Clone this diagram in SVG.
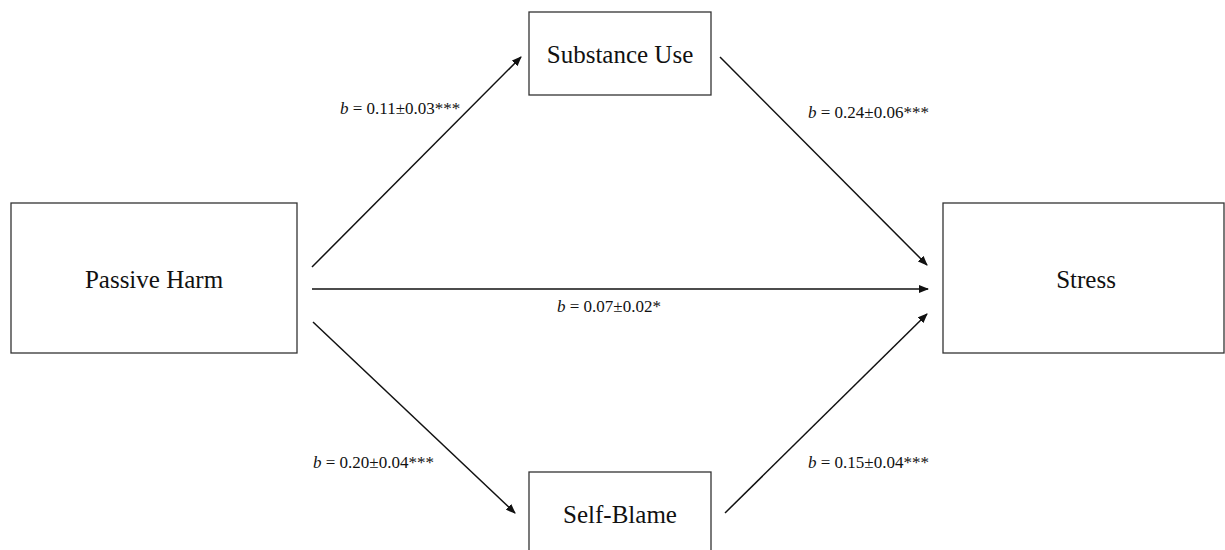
<svg xmlns="http://www.w3.org/2000/svg" width="1225" height="550" viewBox="0 0 1225 550">
<style>
.box{fill:#fff;stroke:#333;stroke-width:1.3}
.node{font-family:"Liberation Serif","Times New Roman",serif;font-size:25px;fill:#111;text-anchor:middle}
.lbl{font-family:"Liberation Serif","Times New Roman",serif;font-size:17px;fill:#111}
.edge{stroke:#111;stroke-width:1.5;fill:none;marker-end:url(#ah)}
</style>
<defs>
<marker id="ah" markerWidth="10" markerHeight="8" refX="9" refY="4" orient="auto" markerUnits="userSpaceOnUse">
<path d="M0,0 L10,4 L0,8 Z" fill="#111"/>
</marker>
</defs>
<rect width="1225" height="550" fill="#fff"/>
<g id="connectors">
<line class="edge" x1="312" y1="267" x2="521" y2="57"/>
<line class="edge" x1="312" y1="289" x2="928" y2="289"/>
<line class="edge" x1="720" y1="57" x2="927" y2="265"/>
<line class="edge" x1="313" y1="322" x2="515" y2="513"/>
<line class="edge" x1="725" y1="513" x2="927" y2="314"/>
<text class="lbl" x="340" y="114"><tspan font-style="italic">b</tspan> = 0.11±0.03***</text>
<text class="lbl" x="808" y="118"><tspan font-style="italic">b</tspan> = 0.24±0.06***</text>
<text class="lbl" x="557" y="312"><tspan font-style="italic">b</tspan> = 0.07±0.02*</text>
<text class="lbl" x="313" y="468"><tspan font-style="italic">b</tspan> = 0.20±0.04***</text>
<text class="lbl" x="808" y="468"><tspan font-style="italic">b</tspan> = 0.15±0.04***</text>
</g>
<g id="passive-harm">
<rect class="box" x="11" y="203" width="286" height="150"/>
<text class="node" x="154" y="288">Passive Harm</text>
</g>
<g id="substance-use">
<rect class="box" x="529" y="12" width="182" height="83"/>
<text class="node" x="620" y="63">Substance Use</text>
</g>
<g id="self-blame">
<rect class="box" x="529" y="472" width="182" height="85"/>
<text class="node" x="620" y="523">Self-Blame</text>
</g>
<g id="stress">
<rect class="box" x="943" y="203" width="281" height="150"/>
<text class="node" x="1086" y="288">Stress</text>
</g>
</svg>
